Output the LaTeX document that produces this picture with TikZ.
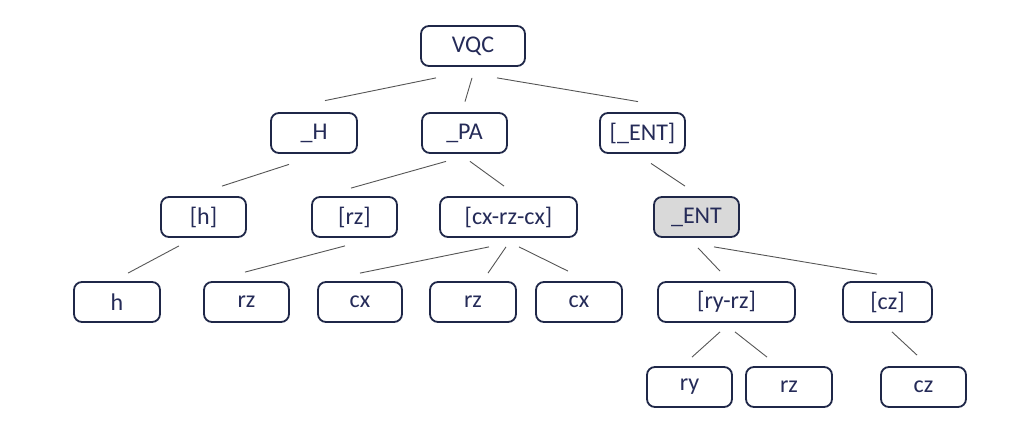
\documentclass[tikz,border=0pt]{standalone}
\usepackage{fontspec}
\setmainfont{Carlito}
\usetikzlibrary{calc}
\definecolor{boxline}{HTML}{1F2748}
\definecolor{boxtext}{HTML}{252B58}
\definecolor{edgecol}{HTML}{555555}
\definecolor{entfill}{HTML}{D9D9D9}
\begin{document}
\begin{tikzpicture}[x=1pt,y=-1pt,
  tbox/.style={draw=boxline, line width=1.8pt, rounded corners=8pt, fill=white,
    minimum height=40pt, inner sep=0pt, text=boxtext,
    font=\fontsize{24}{28}\selectfont},
  edge/.style={draw=edgecol, line width=0.9pt}]
\useasboundingbox (0,0) rectangle (1009,427);
% level 0
\node[tbox, minimum width=104pt] (VQC) at (473,46) {VQC};
% level 1
\node[tbox, minimum width=86pt] (H) at (314,133) {\_H};
\node[tbox, minimum width=85pt] (PA) at (464.5,133) {\_PA};
\node[tbox, minimum width=85pt] (ENTb) at (642.5,133) {[\_ENT]};
% level 2
\node[tbox, minimum width=85pt] (hb) at (203.5,217) {[h]};
\node[tbox, minimum width=85pt] (rzb) at (354.5,217) {[rz]};
\node[tbox, minimum width=137pt] (cxb) at (508.5,217) {[cx-rz-cx]};
\node[tbox, minimum width=85pt, fill=entfill] (ENT) at (696.5,217) {\_ENT};
% level 3
\node[tbox, minimum width=86pt] (h) at (117,302) {h};
\node[tbox, minimum width=85pt] (rzA) at (246.5,302) {rz};
\node[tbox, minimum width=84pt] (cxA) at (360,302) {cx};
\node[tbox, minimum width=86pt] (rzB) at (473,302) {rz};
\node[tbox, minimum width=86pt] (cxB) at (579,302) {cx};
\node[tbox, minimum width=137pt] (ryrz) at (726.5,302) {[ry-rz]};
\node[tbox, minimum width=89pt] (czb) at (887.5,302) {[cz]};
% level 4
\node[tbox, minimum width=85pt] (ry) at (689.5,387) {ry};
\node[tbox, minimum width=86pt] (rzC) at (789,387) {rz};
\node[tbox, minimum width=85pt] (cz) at (923.5,387) {cz};
% edges
\draw[edge] ($(VQC.south)+(-37,11)$) -- ($(H.north)+(11,-11.5)$);
\draw[edge] ($(VQC.south)+(-1,11)$) -- ($(PA.north)+(0.5,-10.5)$);
\draw[edge] ($(VQC.south)+(24,11)$) -- ($(ENTb.north)+(-4.5,-10.5)$);
\draw[edge] ($(H.south)+(-25,10.5)$) -- ($(hb.north)+(18.5,-10)$);
\draw[edge] ($(PA.south)+(-18.5,7.5)$) -- ($(rzb.north)+(-3.5,-8)$);
\draw[edge] ($(PA.south)+(5.5,7.5)$) -- ($(cxb.north)+(-4.5,-10)$);
\draw[edge] ($(ENTb.south)+(8.5,9.5)$) -- ($(ENT.north)+(-11.5,-10)$);
\draw[edge] ($(hb.south)+(-24.5,8)$) -- ($(h.north)+(11,-8)$);
\draw[edge] ($(rzb.south)+(-9.5,8)$) -- ($(rzA.north)+(-1.5,-9)$);
\draw[edge] ($(cxb.south)+(-19.5,9)$) -- ($(cxA.north)+(0,-8)$);
\draw[edge] ($(cxb.south)+(-2.5,9)$) -- ($(rzB.north)+(15,-8)$);
\draw[edge] ($(cxb.south)+(10.5,9)$) -- ($(cxB.north)+(-11,-10)$);
\draw[edge] ($(ENT.south)+(1.5,10)$) -- ($(ryrz.north)+(-6.5,-10)$);
\draw[edge] ($(ENT.south)+(17.5,9)$) -- ($(czb.north)+(-10.5,-7)$);
\draw[edge] ($(ryrz.south)+(-6.5,9)$) -- ($(ry.north)+(2.5,-9)$);
\draw[edge] ($(ryrz.south)+(8.5,9)$) -- ($(rzC.north)+(-22,-9)$);
\draw[edge] ($(czb.south)+(4.5,9)$) -- ($(cz.north)+(-6.5,-11)$);
\end{tikzpicture}
\end{document}
